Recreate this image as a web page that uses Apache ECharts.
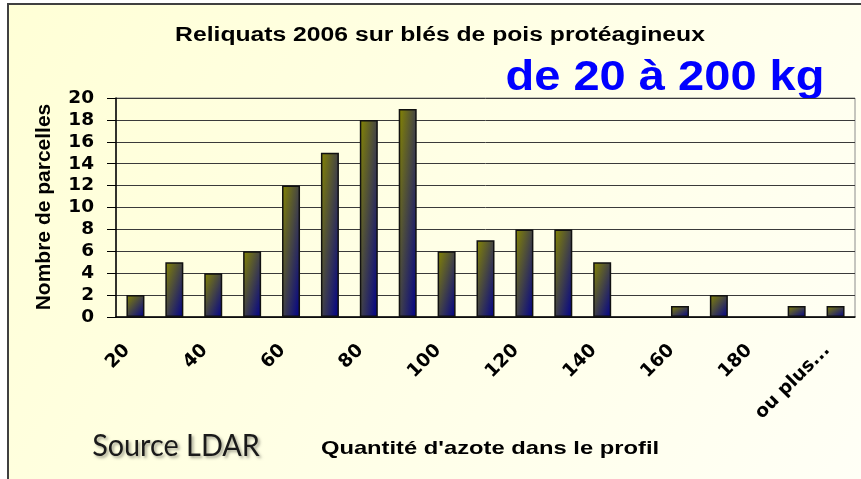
<!DOCTYPE html>
<html>
<head>
<meta charset="utf-8">
<script src="https://cdn.jsdelivr.net/npm/echarts@6/dist/echarts.min.js"></script>
<style>
  html, body { margin: 0; padding: 0; background: #fff; }
  #chart { width: 861px; height: 479px; }
</style>
</head>
<body>
<div id="chart"></div>
<script>
const categories = ['20', '30', '40', '50', '60', '70', '80', '90', '100', '110',
  '120', '130', '140', '150', '160', '170', '180', '190', 'ou plus...'];
const counts = [2, 5, 4, 6, 12, 15, 18, 19, 6, 7, 8, 8, 5, 0, 1, 2, 0, 1, 1];
const yMin = 0, yMax = 20, yStep = 2;

const titleText = 'Reliquats 2006 sur blés de pois protéagineux';
const subText = 'de 20 à 200 kg';
const xName = "Quantité d'azote dans le profil";
const yName = 'Nombre de parcelles';
const sourceText = 'Source LDAR';

const gridTop = 98, gridBottom = 162, gridLeft = 116, gridRight = 6;
const plotH = 479 - gridTop - gridBottom;
const barW = 18;

// excel-like diagonal fill: olive top-left -> navy bottom-right, isolines along the anti-diagonal
function barFill(value) {
  const h = Math.max(value / (yMax - yMin) * plotH, 1);
  const w = barW;
  const s = h * h + w * w;
  return new echarts.graphic.LinearGradient(0, 0, 2 * h * h / s, 2 * w * w / s, [
    { offset: 0, color: '#868600' },
    { offset: 1, color: '#00008c' }
  ]);
}

const chart = echarts.init(document.getElementById('chart'));
const axisFont = { fontFamily: 'DejaVu Sans', fontWeight: 'bold', fontSize: 18.5, color: '#000' };

chart.setOption({
  backgroundColor: '#fff',
  animation: false,
  grid: {
    top: gridTop, bottom: gridBottom, left: gridLeft, right: gridRight,
    show: true, borderColor: '#8c8c8c', borderWidth: 1, backgroundColor: 'transparent'
  },
  xAxis: {
    type: 'category',
    data: categories,
    boundaryGap: true,
    axisLine: { lineStyle: { color: '#000', width: 1.5 } },
    axisTick: { length: 7, interval: 0, lineStyle: { color: '#000', width: 1.5 } },
    axisLabel: { ...axisFont, rotate: 45, interval: 1, margin: 22, padding: [0, 12, 0, 0] }
  },
  yAxis: {
    type: 'value',
    min: yMin, max: yMax, interval: yStep,
    axisLine: { show: true, lineStyle: { color: '#000', width: 1.5 } },
    axisTick: { show: true, length: 9, lineStyle: { color: '#000', width: 1 } },
    axisLabel: { ...axisFont, margin: 22 },
    splitLine: { lineStyle: { color: '#3a3a3a', width: 1 } }
  },
  series: [{
    type: 'bar',
    data: counts.map(v => (v === 0 ? null : v)),
    barWidth: barW,
    itemStyle: {
      color: p => barFill(p.value),
      borderColor: '#111',
      borderWidth: 1.5
    }
  }],
  graphic: [
    {
      type: 'rect', z: -100, silent: true,
      shape: { x: 8, y: 4, width: 900, height: 520 },
      style: {
        fill: new echarts.graphic.LinearGradient(0, 0, 1, 1, [
          { offset: 0, color: '#ffffd6' },
          { offset: 1, color: '#fffff8' }
        ]),
        stroke: '#404040', lineWidth: 2
      }
    },
    {
      type: 'text', x: 440, y: 35.5, scaleX: 1.235,
      style: { text: titleText, font: 'bold 20px "Liberation Sans", Arial', fill: '#000', align: 'center', verticalAlign: 'middle' }
    },
    {
      type: 'text', x: 665, y: 78, scaleX: 1.12,
      style: { text: subText, font: 'bold 42px "Liberation Sans", Arial', fill: '#0000ff', align: 'center', verticalAlign: 'middle' }
    },
    {
      type: 'text', x: 44, y: 207, rotation: Math.PI / 2,
      style: { text: yName, font: 'bold 21px "Liberation Sans", Arial', fill: '#000', align: 'center', verticalAlign: 'middle' }
    },
    {
      type: 'text', x: 490, y: 449, scaleX: 1.25,
      style: { text: xName, font: 'bold 19px "Liberation Sans", Arial', fill: '#000', align: 'center', verticalAlign: 'middle' }
    },
    {
      type: 'text', x: 176, y: 446, scaleX: 0.93,
      style: {
        text: sourceText, font: '31px Lato, "Open Sans"', fill: '#1a1a1a', align: 'center', verticalAlign: 'middle',
        textShadowColor: 'rgba(0,0,0,0.35)', textShadowBlur: 3, textShadowOffsetX: 2, textShadowOffsetY: 2
      }
    }
  ]
});
</script>
</body>
</html>
